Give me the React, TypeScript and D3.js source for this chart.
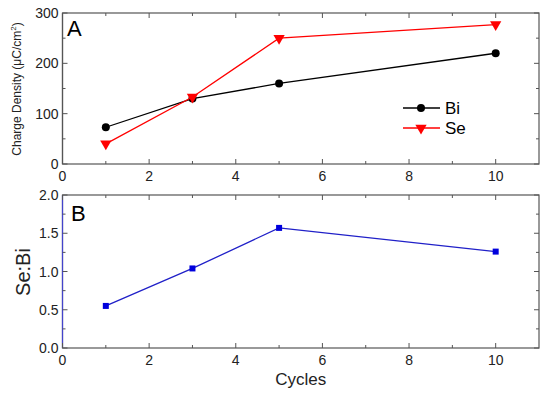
import React, {useEffect, useRef} from 'react'
import * as d3 from 'd3';

const cycles = [1, 3, 5, 10];
const biValues = [73, 130, 160, 220];
const seValues = [40, 133, 250, 277];
const ratioValues = [0.55, 1.04, 1.57, 1.26];
const xTicks = [0, 2, 4, 6, 8, 10];
const chargeTicks = [0, 100, 200, 300];
const ratioTicks = [0, 0.5, 1.0, 1.5, 2.0];

const W = 550, H = 395;
const left = 62.5, right = 539;
const font = 'Arial, "Liberation Sans", sans-serif';

export default function App(){
    const svgRef = useRef<SVGSVGElement>(null);

    useEffect(() => {
        const svg = d3.select(svgRef.current);
        svg.selectAll('*').remove();

        const x = d3.scaleLinear().domain([0, 11]).range([left, right]);
        const yA = d3.scaleLinear().domain([0, 300]).range([164, 13]);
        const yB = d3.scaleLinear().domain([0, 2]).range([348, 195]);

        // frame + inward ticks for a panel
        const drawFrame = (y: d3.ScaleLinear<number, number>, yTicks: number[], yMinor: number[], fmt: (v: number) => string, leftColor: string) => {
            const [y0, y1] = y.range();
            const g = svg.append('g');
            g.append('rect').attr('x', left).attr('y', y1).attr('width', right - left).attr('height', y0 - y1)
                .attr('fill', 'none').attr('stroke', '#555').attr('stroke-width', 1.2);
            g.append('line').attr('x1', left).attr('x2', left).attr('y1', y0).attr('y2', y1)
                .attr('stroke', leftColor).attr('stroke-width', 1.2);
            const xMinor = d3.range(1, 11, 2);
            const tick = (x1: number, y1: number, x2: number, y2: number) =>
                g.append('line').attr('x1', x1).attr('y1', y1).attr('x2', x2).attr('y2', y2).attr('stroke', '#555').attr('stroke-width', 1);
            xTicks.forEach(v => { tick(x(v), y0, x(v), y0 - 5); tick(x(v), y1, x(v), y1 + 5); });
            xMinor.forEach(v => { tick(x(v), y0, x(v), y0 - 3); tick(x(v), y1, x(v), y1 + 3); });
            yTicks.forEach(v => { tick(left, y(v), left + 5, y(v)); tick(right, y(v), right - 5, y(v)); });
            yMinor.forEach(v => { tick(left, y(v), left + 3, y(v)); tick(right, y(v), right - 3, y(v)); });

            g.selectAll('.xl').data(xTicks).join('text')
                .attr('x', d => x(d)).attr('y', y0 + 17).attr('text-anchor', 'middle')
                .attr('font-size', 14).attr('font-family', font).attr('fill', '#222').text(d => d);
            g.selectAll('.yl').data(yTicks).join('text')
                .attr('x', left - 4).attr('y', d => y(d) + 5).attr('text-anchor', 'end')
                .attr('font-size', 14).attr('font-family', font).attr('fill', '#222').text(d => fmt(d));
        };

        drawFrame(yA, chargeTicks, [50, 150, 250], d => String(d), '#555');
        drawFrame(yB, ratioTicks, [0.25, 0.75, 1.25, 1.75], d => d.toFixed(1), '#4444cc');

        // panel letters
        svg.append('text').attr('x', 67).attr('y', 36).attr('font-size', 22).attr('font-family', font).text('A');
        svg.append('text').attr('x', 71).attr('y', 221).attr('font-size', 22).attr('font-family', font).text('B');

        // axis titles
        svg.append('text').attr('transform', 'translate(21,89) rotate(-90)').attr('text-anchor', 'middle')
            .attr('font-size', 12).attr('font-family', font).attr('fill', '#222')
            .html('Charge Density (μC/cm<tspan dy="-5" font-size="8">2</tspan><tspan dy="5">)</tspan>');
        svg.append('text').attr('transform', 'translate(30,272) rotate(-90)').attr('text-anchor', 'middle')
            .attr('font-size', 20).attr('font-family', font).attr('fill', '#222').text('Se:Bi');
        svg.append('text').attr('x', x(5.5)).attr('y', 385).attr('text-anchor', 'middle')
            .attr('font-size', 17).attr('font-family', font).attr('fill', '#222').text('Cycles');

        const lineA = (vals: number[]) => d3.line<number>().x((_, i) => x(cycles[i])).y(d => yA(d))(vals);
        const tri = d3.symbol().type(d3.symbolTriangle).size(55);

        // Bi
        svg.append('path').attr('d', lineA(biValues)).attr('fill', 'none').attr('stroke', 'black').attr('stroke-width', 1.3);
        svg.selectAll('.bi').data(biValues).join('circle')
            .attr('cx', (_, i) => x(cycles[i])).attr('cy', d => yA(d)).attr('r', 4).attr('fill', 'black');
        // Se
        svg.append('path').attr('d', lineA(seValues)).attr('fill', 'none').attr('stroke', 'red').attr('stroke-width', 1.3);
        svg.selectAll('.se').data(seValues).join('path')
            .attr('d', tri).attr('fill', 'red')
            .attr('transform', (d, i) => `translate(${x(cycles[i])},${yA(d)}) rotate(180)`);

        // ratio
        const lineB = d3.line<number>().x((_, i) => x(cycles[i])).y(d => yB(d));
        svg.append('path').attr('d', lineB(ratioValues)).attr('fill', 'none').attr('stroke', '#2020c8').attr('stroke-width', 1.3);
        svg.selectAll('.rt').data(ratioValues).join('rect')
            .attr('x', (_, i) => x(cycles[i]) - 3).attr('y', d => yB(d) - 3)
            .attr('width', 6).attr('height', 6).attr('fill', '#0000dd');

        // legend
        const lg = svg.append('g');
        lg.append('line').attr('x1', 403).attr('x2', 440).attr('y1', 108).attr('y2', 108).attr('stroke', 'black').attr('stroke-width', 1.3);
        lg.append('circle').attr('cx', 421).attr('cy', 108).attr('r', 4).attr('fill', 'black');
        lg.append('text').attr('x', 445).attr('y', 114).attr('font-size', 17).attr('font-family', font).text('Bi');
        lg.append('line').attr('x1', 403).attr('x2', 440).attr('y1', 128).attr('y2', 128).attr('stroke', 'red').attr('stroke-width', 1.3);
        lg.append('path').attr('d', tri).attr('fill', 'red').attr('transform', 'translate(421,128) rotate(180)');
        lg.append('text').attr('x', 445).attr('y', 134).attr('font-size', 17).attr('font-family', font).text('Se');
    }, []);

    return (
        <svg ref={svgRef} width={W} height={H}
            style={{position: 'absolute', left: 0, top: 0, background: 'white'}} />
    );
}
